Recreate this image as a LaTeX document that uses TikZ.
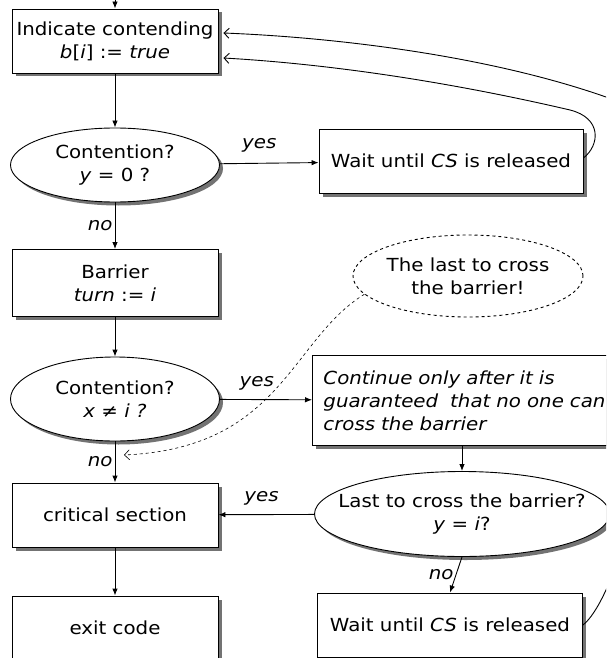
\documentclass[tikz,border=0pt]{standalone}
\usepackage{fontspec}
\setmainfont{DejaVu Sans}[FakeStretch=1.1]
\usetikzlibrary{shapes.geometric,arrows.meta}

\tikzset{
  shadowed/.style={preaction={draw=none, fill=black!55, transform canvas={shift={(3.5pt,-3.5pt)}}}},
  box/.style={draw, fill=white, shadowed, minimum height=64pt, minimum width=206pt,
    inner sep=0pt, align=center},
  decision/.style={ellipse, draw, fill=white, shadowed, inner sep=0pt, align=center},
  note/.style={ellipse, draw, dashed, align=center, inner sep=0pt},
  flow/.style={-{Latex[length=7pt,width=5.5pt]}},
  back/.style={-{Straight Barb[length=5pt,width=10pt]}},
  lbl/.style={font=\fontsize{18}{23}\selectfont\itshape, inner sep=2pt},
}

\begin{document}
\begin{tikzpicture}[x=1pt, y=-1pt, line width=0.9pt, font=\fontsize{18}{23}\selectfont]
  \useasboundingbox (0,0) rectangle (606,658);
  \clip (0,0) rectangle (606,658);

  % left column
  \coordinate (entry) at (115,-20);
  \node[box] (indicate) at (115,41) {Indicate contending\\ \textit{b}[\textit{i}] := \textit{true}};
  \node[decision, minimum width=209pt, minimum height=74pt] (cont1) at (115,165) {Contention?\\ \textit{y} = 0 ?};
  \node[box, minimum height=67pt] (barrier) at (115,283) {Barrier\\ \textit{turn} := \textit{i}};
  \node[decision, minimum width=209pt, minimum height=84pt] (cont2) at (115,399) {Contention?\\ \textit{x} ≠ \textit{i ?}};
  \node[box] (crit) at (115,515) {critical section};
  \node[box] (exit) at (115,628) {exit code};

  % right column
  \node[box, minimum width=264pt] (wait1) at (451,161) {Wait until \textit{CS} is released};
  \node[note, minimum width=207pt, minimum height=82pt] (cloud) at (468,276) {The last to cross\\ the barrier!};
  \node[box, anchor=north west, text width=310pt, inner xsep=11pt, minimum height=90pt, align=left] (guard) at (312,355)
    {\itshape Continue only after it is\\ guaranteed\ \ that no one can\\ cross the barrier};
  \node[decision, minimum width=295pt, minimum height=85pt, inner xsep=-30pt] (last) at (462,514) {Last to cross the barrier?\\ \textit{y} = \textit{i}?};
  \node[box, minimum width=265pt] (wait2) at (450,625) {Wait until \textit{CS} is released};

  % main flow
  \draw[flow] (entry) -- (indicate);
  \draw[flow] (indicate) -- (cont1);
  \draw[flow] (cont1) -- node[lbl, above=9pt, pos=0.4] {yes} (wait1);
  \draw[flow] (cont1) -- node[lbl, left] {no} (barrier);
  \draw[flow] (barrier) -- (cont2);
  \draw[flow] (cont2) -- node[lbl, above=7pt, pos=0.4] {yes} (guard);
  \draw[flow] (cont2) -- node[lbl, left] {no} (crit);
  \draw[flow] (crit) -- (exit);
  \draw[flow] (guard.south -| last.north) -- (last);
  \draw[flow] (last) -- node[lbl, above=7pt, pos=0.55] {yes} (crit);
  \draw[flow] (last.south) -- node[lbl, left] {no} (wait2.north);

  % loops back to the top
  \coordinate (loop) at (640,110);
  \coordinate (bend) at (570,110);
  \draw[back] (wait2.east) .. controls (640,580) and (720,160) .. (loop)
    .. controls (520,60) and (350,38) .. ([xshift=5pt,yshift=8pt]indicate.east);
  \draw[back] ([yshift=3pt]wait1.east) .. controls (600,145) and (602,118) .. (bend)
    .. controls (450,82) and (330,64) .. ([xshift=5pt,yshift=-17pt]indicate.east);

  % remark
  \coordinate (noside) at (124,455);
  \draw[back, dashed, line width=0.6pt] (cloud.190) .. controls (290,340) and (282,448) .. (noside);
\end{tikzpicture}
\end{document}
